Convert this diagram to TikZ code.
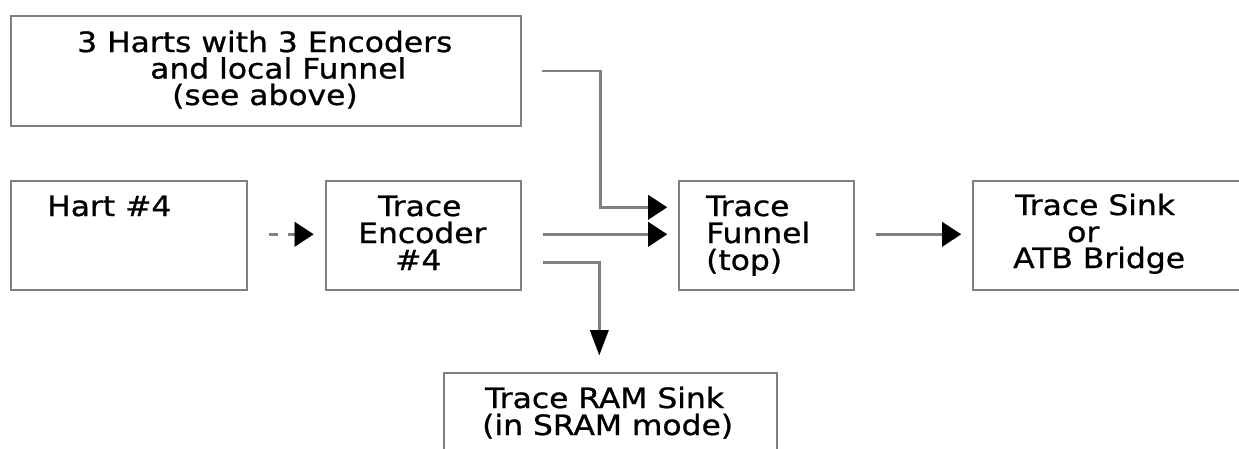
\documentclass[tikz,border=0pt]{standalone}
\usepackage{fontspec}
\setmainfont{DejaVu Sans}
\newfontfamily\diafont{DejaVu Sans}[FakeBold=0.8]
\usetikzlibrary{arrows.meta,calc}
\definecolor{linegray}{RGB}{128,128,128}
\newcommand{\wtxt}[1]{\scalebox{1.12}[1]{#1}}
\tikzset{
  box/.style={draw=linegray, line width=2.6pt, rectangle, inner sep=0pt, anchor=north west},
  txt/.style={anchor=base west, inner sep=0pt, font=\diafont\fontsize{28}{27}\selectfont},
  conn/.style={draw=linegray, line width=2.6pt},
  htip/.style={-{Triangle[length=19pt,width=25pt,color=black,line width=0.01pt]}},
  vtip/.style={-{Triangle[length=25pt,width=19pt,color=black,line width=0.01pt]}}
}
\begin{document}
\begin{tikzpicture}[x=1pt,y=-1pt]
\useasboundingbox (0,0) rectangle (1239,448);
\clip (0,0) rectangle (1239,448);
% boxes
\node[box, minimum width=510pt, minimum height=110pt] (A) at (9.5,14.5) {};
\node[box, minimum width=236pt, minimum height=109pt] (H) at (9.5,179.5) {};
\node[box, minimum width=195pt, minimum height=109pt] (E) at (324.5,179.5) {};
\node[box, minimum width=175pt, minimum height=109pt] (F) at (677.5,179.5) {};
\node[box, minimum width=300pt, minimum height=109pt] (S) at (971.5,179.5) {};
\node[box, minimum width=333pt, minimum height=110pt] (R) at (442.5,371.5) {};
% texts
\node[txt] (a1) at (77,52) {\wtxt{3 Harts with 3 Encoders}};
\node[txt] (a2) at (150,78.5) {\wtxt{and local Funnel}};
\node[txt] (a3) at (172,105) {\wtxt{(see above)}};
\node[txt] (h1) at (47,216) {\wtxt{Hart \#4}};
\node[txt] (e1) at (378,216) {\wtxt{Trace}};
\node[txt] (e2) at (358,243) {\wtxt{Encoder}};
\node[txt] (e3) at (395,270) {\wtxt{\#4}};
\node[txt] (f1) at (706,216) {\wtxt{Trace}};
\node[txt] (f2) at (706,243) {\wtxt{Funnel}};
\node[txt] (f3) at (706,270) {\wtxt{(top)}};
\node[txt] (s1) at (1015,215) {\wtxt{Trace Sink}};
\node[txt] (s2) at (1067,242) {\wtxt{or}};
\node[txt] (s3) at (1013,268) {\wtxt{ATB Bridge}};
\node[txt] (r1) at (485,408) {\wtxt{Trace RAM Sink}};
\node[txt] (r2) at (482,435) {\wtxt{(in SRAM mode)}};
% connectors
\draw[conn,htip] ([xshift=19.5pt]A.east) -- ++(59,0) |- ([xshift=-10.5pt,yshift=28pt]F.west);
\draw[conn,htip] ([xshift=20.5pt,yshift=1pt]E.east) -- ([xshift=-10.5pt,yshift=1pt]F.west);
\draw[conn,vtip] ([xshift=20.5pt,yshift=-27pt]E.east) -| ([xshift=-11pt,yshift=16.5pt]R.north);
\draw[conn,htip] ([xshift=20.5pt,yshift=1pt]F.east) -- ([xshift=-10.5pt,yshift=1pt]S.west);
\draw[conn,htip,dash pattern=on 9pt off 10pt] ([xshift=20.5pt,yshift=1pt]H.east) -- ([xshift=-11pt,yshift=1pt]E.west);
\end{tikzpicture}
\end{document}
